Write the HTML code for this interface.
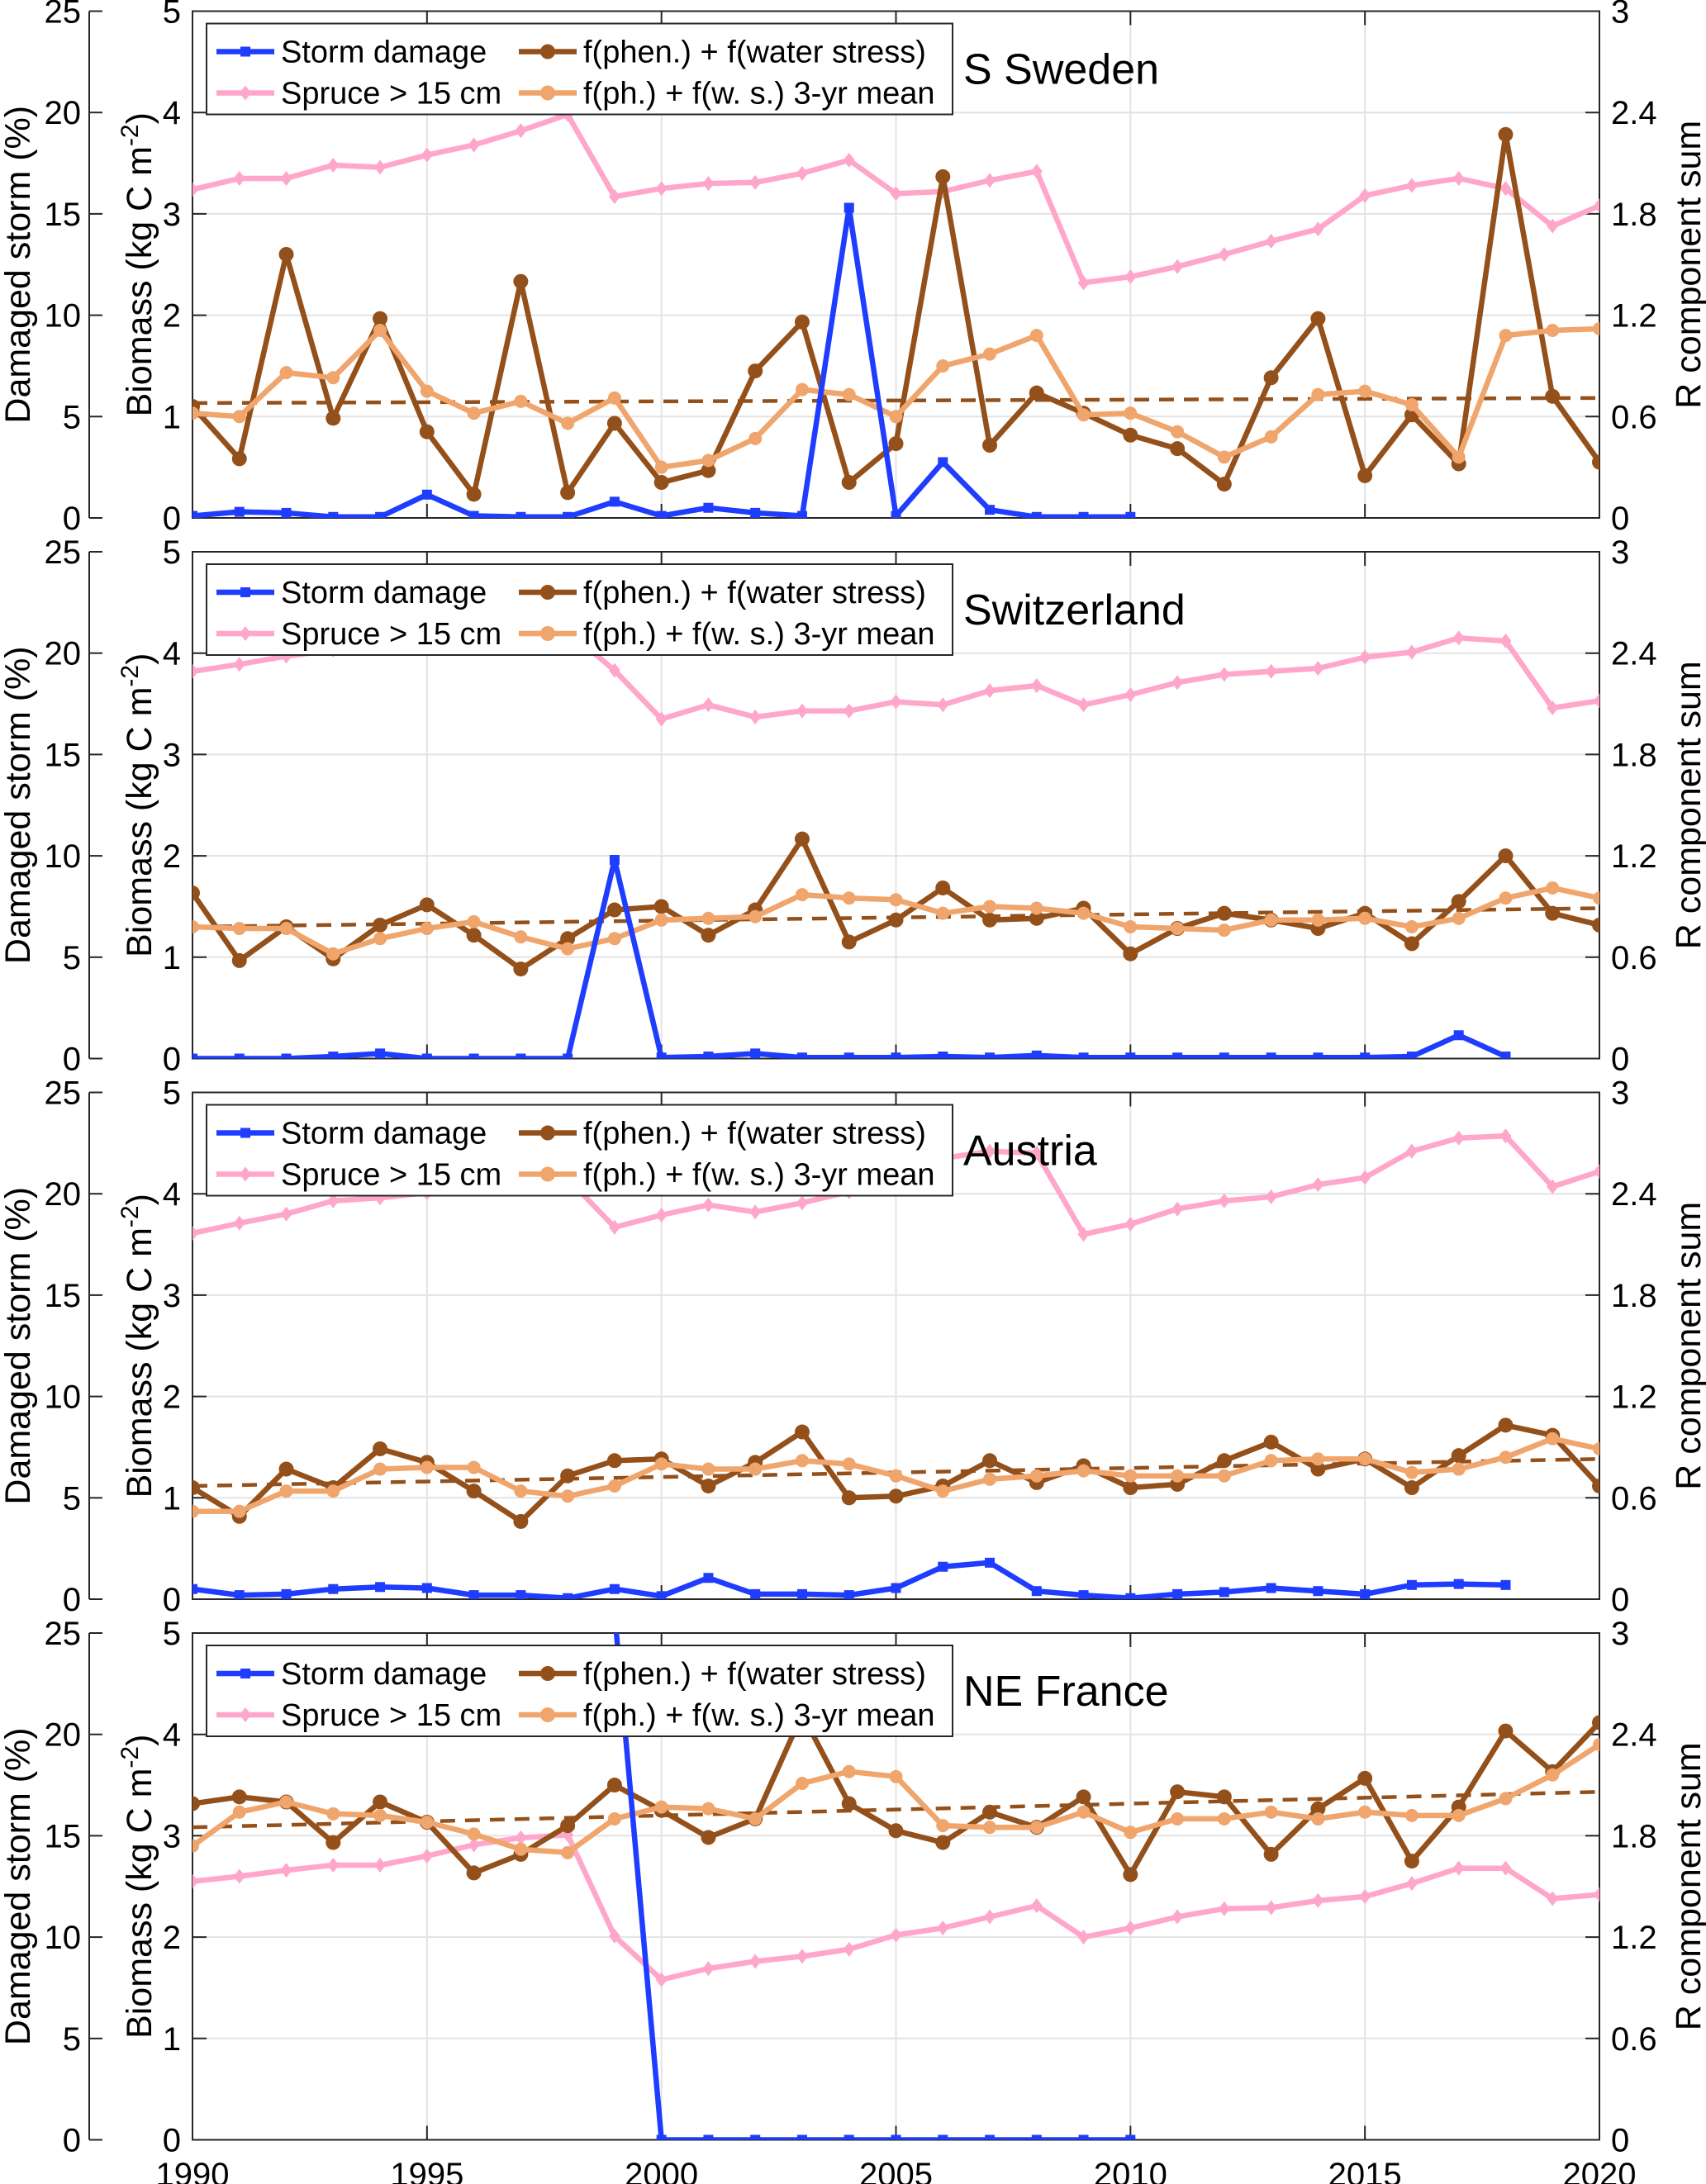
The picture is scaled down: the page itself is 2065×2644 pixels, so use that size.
<!DOCTYPE html>
<html><head><meta charset="utf-8"><style>
html,body{margin:0;padding:0;background:#fff;}
svg{display:block;font-family:"Liberation Sans",sans-serif;}
</style></head><body>
<svg id="chart" width="2065" height="2644" viewBox="0 0 2065 2644" xmlns="http://www.w3.org/2000/svg"></svg>
<script>
const years = [];
for (let y = 1990; y <= 2020; y++) years.push(y);
const panelTitles = ["S Sweden", "Switzerland", "Austria", "NE France"];
const biomassTicks = [0, 1, 2, 3, 4, 5];
const stormTicks = [0, 5, 10, 15, 20, 25];
const rTicks = ["0", "0.6", "1.2", "1.8", "2.4", "3"];
const xTicks = [1990, 1995, 2000, 2005, 2010, 2015, 2020];

// Spruce > 15 cm (biomass, kg C m-2)
const spruceSweden = [3.24,3.35,3.35,3.48,3.46,3.58,3.68,3.82,3.98,3.17,3.25,3.3,3.31,3.4,3.53,3.2,3.22,3.33,3.42,2.32,2.38,2.48,2.6,2.73,2.85,3.18,3.28,3.35,3.25,2.88,3.08];
const spruceSwiss = [3.82,3.89,3.97,4.03,4.08,4.12,4.16,4.2,4.22,3.83,3.35,3.49,3.37,3.43,3.43,3.52,3.49,3.63,3.68,3.49,3.59,3.71,3.79,3.82,3.85,3.96,4.01,4.15,4.12,3.46,3.53];
const spruceAustria = [3.61,3.71,3.8,3.93,3.96,4.01,4.05,4.1,4.15,3.67,3.79,3.89,3.82,3.91,4.02,4.15,4.35,4.42,4.4,3.6,3.7,3.85,3.93,3.97,4.09,4.16,4.42,4.55,4.57,4.07,4.22];
const spruceFrance = [2.55,2.6,2.66,2.71,2.71,2.8,2.91,2.98,3.01,2.01,1.58,1.69,1.76,1.81,1.88,2.02,2.09,2.2,2.31,2.0,2.09,2.2,2.28,2.29,2.36,2.4,2.53,2.68,2.68,2.38,2.42];

// f(phen.) + f(water stress) (R component sum)
const phenSweden = [0.66,0.35,1.56,0.59,1.18,0.51,0.14,1.40,0.15,0.56,0.21,0.28,0.87,1.16,0.21,0.44,2.02,0.43,0.74,0.62,0.49,0.41,0.20,0.83,1.18,0.25,0.61,0.32,2.27,0.72,0.33];
const phenSwiss = [0.98,0.58,0.78,0.59,0.79,0.91,0.73,0.53,0.71,0.88,0.9,0.73,0.88,1.3,0.69,0.82,1.01,0.82,0.83,0.89,0.62,0.77,0.86,0.82,0.77,0.86,0.68,0.93,1.2,0.86,0.79];
const phenAustria = [0.66,0.49,0.77,0.66,0.89,0.81,0.64,0.46,0.73,0.82,0.83,0.67,0.81,0.99,0.6,0.61,0.67,0.82,0.69,0.79,0.66,0.68,0.82,0.93,0.77,0.83,0.66,0.85,1.03,0.97,0.67];
const phenFrance = [1.99,2.03,2.0,1.76,2.0,1.88,1.58,1.69,1.86,2.1,1.95,1.79,1.9,2.52,1.99,1.83,1.76,1.94,1.85,2.03,1.57,2.06,2.03,1.69,1.96,2.14,1.65,1.97,2.42,2.18,2.47];

// 3-yr mean (R component sum)
const meanSweden = [0.62,0.60,0.86,0.83,1.11,0.75,0.62,0.69,0.56,0.71,0.30,0.34,0.47,0.76,0.73,0.60,0.90,0.97,1.08,0.61,0.62,0.51,0.36,0.48,0.73,0.75,0.67,0.36,1.08,1.11,1.12];
const meanSwiss = [0.78,0.77,0.77,0.62,0.71,0.77,0.81,0.72,0.65,0.71,0.82,0.83,0.84,0.97,0.95,0.94,0.86,0.9,0.89,0.86,0.78,0.77,0.76,0.82,0.82,0.83,0.78,0.83,0.95,1.01,0.95];
const meanAustria = [0.52,0.52,0.64,0.64,0.77,0.78,0.78,0.64,0.61,0.67,0.8,0.77,0.77,0.82,0.8,0.73,0.64,0.71,0.73,0.76,0.73,0.73,0.73,0.82,0.83,0.83,0.75,0.77,0.84,0.95,0.89];
const meanFrance = [1.74,1.94,2.0,1.93,1.92,1.88,1.81,1.72,1.7,1.9,1.97,1.96,1.9,2.11,2.18,2.15,1.86,1.85,1.85,1.94,1.82,1.9,1.9,1.94,1.9,1.94,1.92,1.92,2.02,2.16,2.34];

// linear trend endpoints (R component sum) for 1990 and 2020
const trendSweden = [0.68, 0.71];
const trendSwiss = [0.78, 0.89];
const trendAustria = [0.67, 0.83];
const trendFrance = [1.85, 2.06];

// Storm damage (%), starting 1990
const stormSweden = [0.1,0.3,0.25,0.05,0.05,1.15,0.1,0.05,0.05,0.8,0.1,0.5,0.25,0.1,15.3,0.1,2.75,0.4,0.05,0.05,0.05];
const stormSwiss = [0,0,0,0.1,0.25,0,0,0,0,9.8,0.05,0.1,0.25,0.05,0.05,0.05,0.1,0.05,0.15,0.05,0.05,0.05,0.05,0.05,0.05,0.05,0.1,1.15,0.1];
const stormAustria = [0.5,0.2,0.25,0.5,0.6,0.55,0.2,0.2,0.05,0.5,0.15,1.05,0.25,0.25,0.2,0.55,1.6,1.8,0.4,0.2,0.05,0.25,0.35,0.55,0.4,0.25,0.7,0.75,0.7];
const stormFrance = [null,null,null,null,null,null,null,null,null,26,0,0,0,0,0,0,0,0,0,0,0];

const spruceAll = [spruceSweden, spruceSwiss, spruceAustria, spruceFrance];
const phenAll = [phenSweden, phenSwiss, phenAustria, phenFrance];
const meanAll = [meanSweden, meanSwiss, meanAustria, meanFrance];
const trendAll = [trendSweden, trendSwiss, trendAustria, trendFrance];
const stormAll = [stormSweden, stormSwiss, stormAustria, stormFrance];

const NS = "http://www.w3.org/2000/svg";
const svg = document.getElementById("chart");
const X0 = 233, X1 = 1936, H = 613.5;
const C = {blue:"#1f3dff", brown:"#94501a", orange:"#efa56c", pink:"#ffa6cb", grid:"#e3e3e3", axis:"#262626"};
const LW = 6.5;
function el(tag, attrs, parent){ const e=document.createElementNS(NS,tag); for(const k in attrs) e.setAttribute(k,attrs[k]); (parent||svg).appendChild(e); return e; }
function xS(yr){ return X0 + (yr-1990)*(X1-X0)/30; }

const defs = el("defs", {});

for (let p = 0; p < 4; p++) {
  const T = 13.5 + p*654.5, B = T + H;
  const yB = v => B - v/5*H;
  const yR = v => B - v/3*H;
  const yS = v => B - v/25*H;
  const g = el("g", {});
  
  
  const cp = el("clipPath", {id:"cp"+p}, defs);
  el("rect", {x:X0, y:T, width:X1-X0, height:H}, cp);

  for (const yr of xTicks) {
    const l = el("line", {x1:xS(yr), x2:xS(yr), y1:T, y2:B, stroke:C.grid, "stroke-width":2}, g);
    
    
  }
  for (const v of biomassTicks) {
    const l = el("line", {x1:X0, x2:X1, y1:yB(v), y2:yB(v), stroke:C.grid, "stroke-width":2}, g);
    
    
  }
  const box = el("rect", {x:X0, y:T, width:X1-X0, height:H, fill:"none", stroke:C.axis, "stroke-width":2}, g);
  
  
  for (const yr of xTicks) {
    el("line", {x1:xS(yr), x2:xS(yr), y1:B, y2:B-17, stroke:C.axis, "stroke-width":2}, g);
    el("line", {x1:xS(yr), x2:xS(yr), y1:T, y2:T+17, stroke:C.axis, "stroke-width":2}, g);
  }
  biomassTicks.forEach((v, i) => {
    el("line", {x1:X0, x2:X0+17, y1:yB(v), y2:yB(v), stroke:C.axis, "stroke-width":2}, g);
    el("line", {x1:X1, x2:X1-17, y1:yB(v), y2:yB(v), stroke:C.axis, "stroke-width":2}, g);
    const t1 = el("text", {x:219, y:yB(v)+14, "text-anchor":"end", "font-size":40}, g);
    t1.textContent = v;
    
    
    const t2 = el("text", {x:1950, y:yB(v)+14, "font-size":40}, g);
    t2.textContent = rTicks[i];
    
    
  });
  const sa = el("line", {x1:108, x2:108, y1:T, y2:B, stroke:C.axis, "stroke-width":2}, g);
  
  
  for (const v of stormTicks) {
    el("line", {x1:108, x2:124, y1:yS(v), y2:yS(v), stroke:C.axis, "stroke-width":2}, g);
    const t = el("text", {x:98, y:yS(v)+14, "text-anchor":"end", "font-size":40}, g);
    t.textContent = v;
    
    
  }
  const cy = T + H/2;
  const at1 = el("text", {x:0, y:0, transform:`translate(36,${cy}) rotate(-90)`, "text-anchor":"middle", "font-size":43}, g);
  at1.textContent = "Damaged storm (%)";
  
  
  const at2 = el("text", {x:0, y:0, transform:`translate(183,${cy}) rotate(-90)`, "text-anchor":"middle", "font-size":43}, g);
  at2.innerHTML = 'Biomass (kg C m<tspan dy="-16" font-size="30">-2</tspan><tspan dy="16">)</tspan>';
  
  
  const at3 = el("text", {x:0, y:0, transform:`translate(2058,${cy}) rotate(-90)`, "text-anchor":"middle", "font-size":43}, g);
  at3.textContent = "R component sum";
  
  

  const dg = el("g", {"clip-path":`url(#cp${p})`}, g);
  function line(vals, yf, color, w, name) {
    let d = "", pen = false;
    vals.forEach((v, i) => {
      if (v === null) { pen = false; return; }
      d += (pen ? "L" : "M") + xS(years[i]).toFixed(1) + "," + yf(v).toFixed(1);
      pen = true;
    });
    const path = el("path", {d:d, fill:"none", stroke:color, "stroke-width":w, "stroke-linejoin":"round"}, dg);
    
    
    return path;
  }
  const tr = trendAll[p];
  const tl = el("line", {x1:xS(1990), x2:xS(2020), y1:yR(tr[0]), y2:yR(tr[1]), stroke:C.brown, "stroke-width":4.5, "stroke-dasharray":"18,12"}, dg);
  
  

  line(spruceAll[p], yB, C.pink, LW, "spruce-line");
  spruceAll[p].forEach((v, i) => {
    const x = xS(years[i]), y = yB(v);
    const m = el("path", {d:`M${x},${y-9}L${x+7},${y}L${x},${y+9}L${x-7},${y}Z`, fill:C.pink}, dg);
    
    
  });
  line(phenAll[p], yR, C.brown, LW, "phen-water-line");
  phenAll[p].forEach((v, i) => {
    const m = el("circle", {cx:xS(years[i]), cy:yR(v), r:9, fill:C.brown}, dg);
    
    
  });
  line(meanAll[p], yR, C.orange, LW, "three-yr-mean-line");
  meanAll[p].forEach((v, i) => {
    const m = el("circle", {cx:xS(years[i]), cy:yR(v), r:8, fill:C.orange}, dg);
    
    
  });
  line(stormAll[p], yS, C.blue, LW, "storm-damage-line");
  stormAll[p].forEach((v, i) => {
    if (v === null) return;
    const m = el("rect", {x:xS(years[i])-6, y:yS(v)-6, width:12, height:12, fill:C.blue}, dg);
    
    
  });

  const lg = el("g", {}, g);
  
  
  el("rect", {x:250, y:T+15, width:903, height:110, fill:"#fff", stroke:C.axis, "stroke-width":2}, lg);
  const entries = [
    [262, T+49, C.blue, "sq", "Storm damage"],
    [262, T+99, C.pink, "di", "Spruce > 15 cm"],
    [628, T+49, C.brown, "ci", "f(phen.) + f(water stress)"],
    [628, T+99, C.orange, "ci", "f(ph.) + f(w. s.) 3-yr mean"]
  ];
  for (const e of entries) {
    const eg = el("g", {}, lg);
    
    
    el("line", {x1:e[0], x2:e[0]+70, y1:e[1], y2:e[1], stroke:e[2], "stroke-width":LW}, eg);
    const mx = e[0]+35, my = e[1];
    if (e[3] === "sq") el("rect", {x:mx-6, y:my-6, width:12, height:12, fill:e[2]}, eg);
    else if (e[3] === "ci") el("circle", {cx:mx, cy:my, r:9, fill:e[2]}, eg);
    else el("path", {d:`M${mx},${my-9}L${mx+7},${my}L${mx},${my+9}L${mx-7},${my}Z`, fill:e[2]}, eg);
    const t = el("text", {x:e[0]+78, y:e[1]+13, "font-size":38}, eg);
    t.textContent = e[4];
  }
  const tt = el("text", {x:1166, y:T+88, "font-size":52}, g);
  tt.textContent = panelTitles[p];
  
  

  if (p === 3) {
    for (const yr of xTicks) {
      const t = el("text", {x:xS(yr), y:2646, "text-anchor":"middle", "font-size":40}, g);
      t.textContent = yr;
      
      
    }
  }
}
</script>
</body></html>
